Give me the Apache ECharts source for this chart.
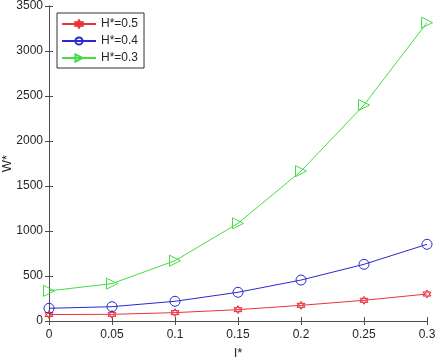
<!DOCTYPE html>
<html>
<head>
<meta charset="utf-8">
<script src="https://cdn.jsdelivr.net/npm/echarts@6/dist/echarts.min.js"></script>
<style>
  html, body { margin: 0; padding: 0; background: #fff; }
  #chart { width: 438px; height: 361px; }
</style>
</head>
<body>
<div id="chart"></div>
<script>
const lValues = [0, 0.05, 0.1, 0.15, 0.2, 0.25, 0.3];
const wH05 = [72, 74, 93, 126, 174, 230, 300];
const wH04 = [141, 159, 219, 319, 455, 630, 852];
const wH03 = [335, 415, 670, 1085, 1665, 2400, 3315];
const seriesNames = ['H*=0.5', 'H*=0.4', 'H*=0.3'];

const hexagram = 'path://M5,0 L9.33,7.5 L0.67,7.5 Z M5,10 L0.67,2.5 L9.33,2.5 Z';
const rightTri = 'path://M0,0 L10,5 L0,10 Z';

const axisColor = '#4d4d4d';
const textColor = '#262626';
const font = 'Liberation Sans, Arial';

const chart = echarts.init(document.getElementById('chart'));

const makeSeries = (name, values, color, symbol, size) => ({
  name,
  type: 'line',
  data: lValues.map((x, i) => [x, values[i]]),
  symbol,
  symbolSize: size,
  showAllSymbol: true,
  lineStyle: { color, width: 1 },
  itemStyle: { color: 'rgba(255,255,255,0)', borderColor: color, borderWidth: 1 },
  emphasis: { disabled: true },
  animation: false,
  z: 3,
});

const hiddenAxis = {
  axisLine: { show: true, lineStyle: { color: axisColor } },
  axisTick: { show: true, inside: true, length: 4, lineStyle: { color: axisColor } },
  axisLabel: { show: false },
  splitLine: { show: false },
};

chart.setOption({
  backgroundColor: '#fff',
  animation: false,
  grid: { left: 49, right: 11, top: 6, bottom: 40, containLabel: false, outerBoundsMode: 'none' },
  legend: {
    left: 57,
    top: 13,
    orient: 'vertical',
    itemWidth: 34,
    itemHeight: 9,
    itemGap: 5,
    padding: [5, 6, 4, 4],
    borderColor: '#333',
    borderWidth: 1,
    backgroundColor: '#fff',
    textStyle: { fontFamily: font, fontSize: 12, color: textColor },
    data: seriesNames,
  },
  xAxis: [
    {
      type: 'value',
      min: 0,
      max: 0.3,
      interval: 0.05,
      name: 'I*',
      nameLocation: 'middle',
      nameGap: 26,
      nameMoveOverlap: false,
      nameTextStyle: { fontFamily: font, fontSize: 13, color: textColor },
      axisLine: { show: true, lineStyle: { color: axisColor } },
      axisTick: { show: true, inside: true, length: 4, lineStyle: { color: axisColor } },
      axisLabel: { fontFamily: font, fontSize: 12, color: textColor, margin: 8 },
      splitLine: { show: false },
    },
    { type: 'value', position: 'top', min: 0, max: 0.3, interval: 0.05, ...hiddenAxis },
  ],
  yAxis: [
    {
      type: 'value',
      min: 0,
      max: 3500,
      interval: 500,
      name: 'W*',
      nameLocation: 'middle',
      nameGap: 35,
      nameMoveOverlap: false,
      nameTextStyle: { fontFamily: font, fontSize: 13, color: textColor },
      axisLine: { show: true, lineStyle: { color: axisColor } },
      axisTick: { show: true, inside: true, length: 4, lineStyle: { color: axisColor } },
      axisLabel: { fontFamily: font, fontSize: 12, color: textColor, margin: 6, formatter: v => String(v) },
      splitLine: { show: false },
    },
    { type: 'value', position: 'right', min: 0, max: 3500, interval: 500, ...hiddenAxis },
  ],
  series: [
    makeSeries(seriesNames[0], wH05, '#e8343c', hexagram, 8),
    makeSeries(seriesNames[1], wH04, '#2a2ad0', 'circle', 10),
    makeSeries(seriesNames[2], wH03, '#44dd44', rightTri, 11),
  ],
});
</script>
</body>
</html>
